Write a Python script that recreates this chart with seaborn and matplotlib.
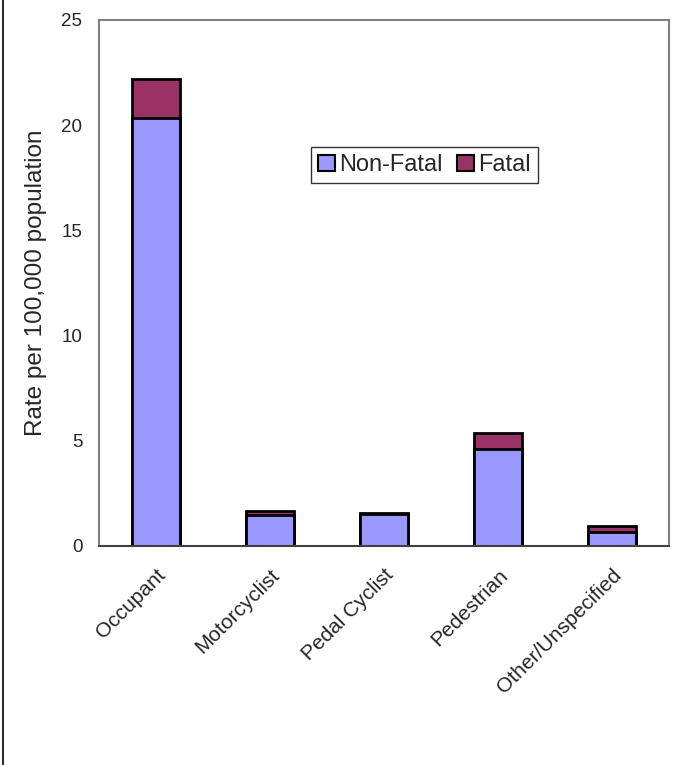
import matplotlib
matplotlib.use("Agg")
import matplotlib.pyplot as plt
import seaborn as sns
import pandas as pd
from matplotlib.patches import Patch
from matplotlib.lines import Line2D

categories = ["Occupant", "Motorcyclist", "Pedal Cyclist", "Pedestrian", "Other/Unspecified"]
non_fatal = [20.33, 1.47, 1.50, 4.63, 0.68]
fatal = [1.87, 0.19, 0.05, 0.73, 0.27]
y_ticks = [0, 5, 10, 15, 20, 25]

total = [a + b for a, b in zip(non_fatal, fatal)]
df = pd.DataFrame({"cat": categories, "nonfatal": non_fatal, "total": total})

sns.set_style("white")
plt.rcParams["font.family"] = ["Liberation Sans", "DejaVu Sans"]

fig = plt.figure(figsize=(6.81, 7.65), dpi=100)
ax = fig.add_axes([99/681, 1 - 546/765, 570/681, 526/765])

c_nf = "#9999FF"
c_f = "#993366"
sns.barplot(data=df, x="cat", y="total", color=c_f, saturation=1, width=0.42,
            edgecolor="black", linewidth=2, ax=ax)
sns.barplot(data=df, x="cat", y="nonfatal", color=c_nf, saturation=1, width=0.42,
            edgecolor="black", linewidth=2, ax=ax)

ax.set_ylim(0, 25)
ax.set_xlim(-0.5, 4.5)
ax.set_yticks(y_ticks)
ax.set_yticklabels([str(t) for t in y_ticks], fontsize=13.5)
ax.tick_params(axis="y", length=0, pad=12)
ax.tick_params(axis="x", length=0, pad=14)
ax.set_xticks(range(len(categories)))
ax.set_xticklabels(categories, rotation=45, ha="right", va="top", rotation_mode="anchor", fontsize=15)
ax.set_xlabel("")
ax.set_ylabel("Rate per 100,000 population", fontsize=17.5, labelpad=10)

for s in ["left", "top", "right"]:
    ax.spines[s].set_color("#808080")
    ax.spines[s].set_linewidth(1.5)
ax.spines["bottom"].set_color("#404040")
ax.spines["bottom"].set_linewidth(1.5)

handles = [Patch(facecolor=c_nf, edgecolor="black", linewidth=1.5),
           Patch(facecolor=c_f, edgecolor="black", linewidth=1.5)]
leg = ax.legend(handles, ["Non-Fatal", "Fatal"], loc="center", bbox_to_anchor=(0.571, 0.724),
                ncol=2, fontsize=17, frameon=True, fancybox=False, handlelength=0.7,
                handleheight=0.7, handletextpad=0.2, columnspacing=0.6, borderpad=0.3,
                borderaxespad=0)
leg.get_frame().set_edgecolor("black")
leg.get_frame().set_linewidth(1.0)

fig.add_artist(Line2D([3/681, 3/681], [0, 1], color="black", linewidth=1.2, transform=fig.transFigure))

fig.savefig("out.png", dpi=100)
